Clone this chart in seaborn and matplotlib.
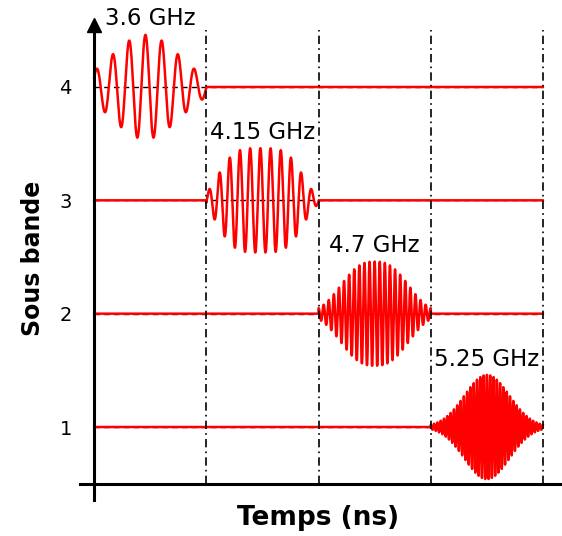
import numpy as np
import pandas as pd
import matplotlib
matplotlib.use("Agg")
import matplotlib.pyplot as plt
import seaborn as sns

# Sub-bands, one pulse per time slot
bands = [4, 3, 2, 1]
freq_labels = ["3.6 GHz", "4.15 GHz", "4.7 GHz", "5.25 GHz"]
slot_start = [0, 1, 2, 3]
pulse_centre = [0.458, 1.482, 2.5, 3.5]      # time of envelope peak
carrier_cycles = [6.9, 11, 22, 34]           # oscillations per slot
env_width = [0.30, 0.343, 0.28, 0.20]
env_power = [2.0, 4.0, 2.6, 2.0]
amplitude = 0.46
slot_edges = [1, 2, 3, 4]

sns.set_style("white")
plt.rcParams['font.family'] = ['DejaVu Sans']

# build the signals (flat line outside each slot)
t = np.linspace(0, 4, 24001)
frames = []
for b, s0, tc, cyc, w, p in zip(bands, slot_start, pulse_centre, carrier_cycles, env_width, env_power):
    u = t - tc
    env = amplitude * np.exp(-0.5 * np.abs(u / w) ** p)
    y = env * np.cos(2 * np.pi * cyc * u)
    y[(t < s0) | (t > s0 + 1)] = 0
    frames.append(pd.DataFrame({"t": t, "y": b + y, "band": b}))
df = pd.concat(frames, ignore_index=True)

fig = plt.figure(figsize=(5.62, 5.36), dpi=100)
ax = fig.add_axes([80 / 562, 36 / 536, 482 / 562, 475 / 536])
ax.set_xlim(-0.1247, 4.169)
ax.set_ylim(0.356, 4.547)

# dashed zero lines under the pulses
ax.hlines(bands, 0, 4, colors="black", linewidth=1.0, linestyles=(0, (4, 3)), zorder=1)

sns.lineplot(data=df, x="t", y="y", units="band", estimator=None, sort=False,
             color="red", linewidth=1.8, ax=ax, zorder=2, legend=False)

# slot boundaries
ax.vlines(slot_edges, 0.497, 4.5, colors="black", linewidth=1.2,
          linestyles=(0, (5, 2.5, 1, 2.5)), zorder=3)

for b, s0, lab in zip(bands, slot_start, freq_labels):
    ax.text(s0 + 0.5, b + 0.6, lab, ha="center", va="center", fontsize=16.5, color="black")

# axes drawn as crossing lines
for side in ["top", "right"]:
    ax.spines[side].set_visible(False)
ax.spines["left"].set_position(("data", 0))
ax.spines["bottom"].set_position(("data", 0.497))
for side in ["left", "bottom"]:
    ax.spines[side].set_linewidth(2.2)
    ax.spines[side].set_color("black")
ax.plot(0, 1, marker="^", markersize=10, color="black",
        transform=ax.get_xaxis_transform(), clip_on=False)

ax.set_xticks([])
ax.set_yticks(bands)
ax.set_yticklabels([str(b) for b in bands])
ax.tick_params(axis="y", length=0, pad=16, labelsize=14, labelcolor="black")

ax.set_xlabel("Temps (ns)", fontsize=19, fontweight="bold", color="black")
ax.set_ylabel("Sous bande", fontsize=17, fontweight="bold", color="black")
ax.xaxis.set_label_coords(0.494, -0.010)
ax.yaxis.set_label_coords(-0.073, 0.508)

fig.savefig("out.png", dpi=100)
